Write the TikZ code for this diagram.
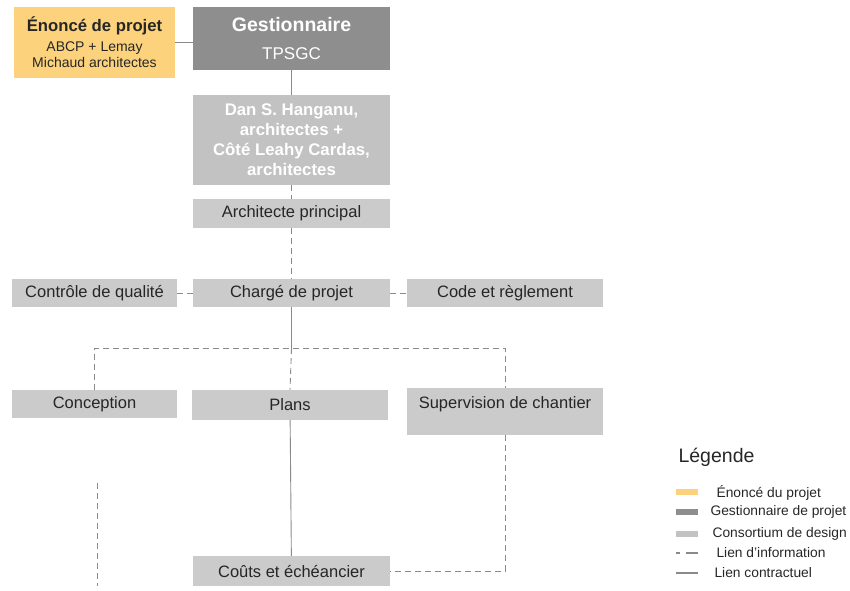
\documentclass[tikz,border=0pt]{standalone}
\usepackage{fontspec}
\setmainfont{Liberation Sans}
\usetikzlibrary{positioning}

\definecolor{enoncecol}{HTML}{FCD27C}
\definecolor{gestcol}{HTML}{8E8E8E}
\definecolor{consocol}{HTML}{C2C2C2}
\definecolor{boxcol}{HTML}{CBCBCB}
\definecolor{linecol}{HTML}{8A8A8A}
\definecolor{txtcol}{HTML}{262626}

\tikzset{
    box/.style={rectangle, fill=boxcol, text=txtcol, inner sep=0pt, align=center,
        font=\fontsize{16.5}{19}\selectfont},
    contract/.style={draw=linecol, line width=0.9pt},
    info/.style={draw=linecol, line width=0.9pt, dash pattern=on 6pt off 4pt},
    legtext/.style={anchor=west, text=txtcol, font=\fontsize{13.8}{16}\selectfont},
    swatch/.style={rectangle, inner sep=0pt, minimum width=22pt, minimum height=6pt}
}

\begin{document}
\begin{tikzpicture}[x=1pt, y=-1pt]
        \useasboundingbox (0,0) rectangle (850,590);
        % top row
        \node[box, fill=enoncecol, minimum width=161pt, minimum height=71pt,
            font=\fontsize{14}{16}\selectfont] (enonce) at (94.5,42.5)
            {\fontsize{16.7}{20}\selectfont\bfseries Énoncé de projet\\[4pt]
             ABCP + Lemay\\Michaud architectes};
        \node[box, fill=gestcol, text=white, minimum width=197pt, minimum height=63pt,
            font=\fontsize{17}{19}\selectfont] (gest) at (291.5,38.5)
            {\fontsize{19.5}{22}\selectfont\bfseries Gestionnaire\\[9pt]
             TPSGC};
        \node[box, fill=consocol, text=white, minimum width=197pt, minimum height=90pt,
            font=\fontsize{16.8}{20}\selectfont\bfseries] (dan) at (291.5,140)
            {Dan S. Hanganu,\\architectes +\\Côté Leahy Cardas,\\architectes};
        \node[box, minimum width=197pt, minimum height=29pt] (archi) at (291.5,213.5) {Architecte principal};
        % middle row
        \node[box, minimum width=197pt, minimum height=28pt] (charge) at (291.5,293) {Chargé de projet};
        \node[box, minimum width=165pt, minimum height=28pt] (controle) at (94.5,293) {Contrôle de qualité};
        \node[box, minimum width=196pt, minimum height=28pt] (code) at (505,293) {Code et règlement};
        % lower row
        \node[box, minimum width=165pt, minimum height=28pt] (conception) at (94.5,404) {Conception};
        \node[box, minimum width=196pt, minimum height=30pt] (plans) at (290,405) {Plans};
        \node[box, minimum width=196pt, minimum height=47pt] (supervision) at (505,411.5)
            {Supervision de chantier\\[-2pt]\mbox{}};
        \node[box, minimum width=197pt, minimum height=30pt] (couts) at (291.5,571) {Coûts et échéancier};
        \coordinate (split) at (291.5,348);
        \coordinate (looseA) at (97,483);
        \coordinate (looseB) at (97,586);

        \draw[contract] (enonce.east) -- (enonce.east -| gest.west);
        \draw[contract] (gest) -- (dan);
        \draw[info] (dan) -- (archi);
        \draw[info] (archi) -- (charge);
        \draw[info] (controle) -- (charge);
        \draw[info] (charge) -- (code);
        \draw[contract] (charge) -- (split);
        \draw[info] (conception.north) |- (split) -| (supervision.north);
        \draw[info] (split) -- (plans.north);
        \draw[contract] (plans) -- (couts);
        \draw[info] (supervision.south) |- (couts.east);
        \draw[info] (looseA) -- (looseB);

        % legend
        \node[anchor=west, text=txtcol, font=\fontsize{19.5}{22}\selectfont] (legende) at (675,457) {Légende};
        \node[swatch, fill=enoncecol] (legA) at (687,492) {};
        \node[swatch, fill=gestcol] (legB) at (687,512) {};
        \node[swatch, fill=consocol] (legC) at (687,534) {};
        \coordinate (legDa) at (676,553);
        \coordinate (legDb) at (698,553);
        \coordinate (legEa) at (676,573);
        \coordinate (legEb) at (698,573);
        \draw[draw=linecol, line width=1.2pt, dash pattern=on 4pt off 6pt on 12pt] (legDa) -- (legDb);
        \draw[contract, line width=1.2pt] (legEa) -- (legEb);
        \node[legtext] (legAt) at (713,493) {Énoncé du projet};
        \node[legtext] (legBt) at (707,512) {Gestionnaire de projet};
        \node[legtext] (legCt) at (709,534) {Consortium de design};
        \node[legtext] (legDt) at (713,553) {Lien d'information};
        \node[legtext] (legEt) at (711,573) {Lien contractuel};
    \end{tikzpicture}
\end{document}
